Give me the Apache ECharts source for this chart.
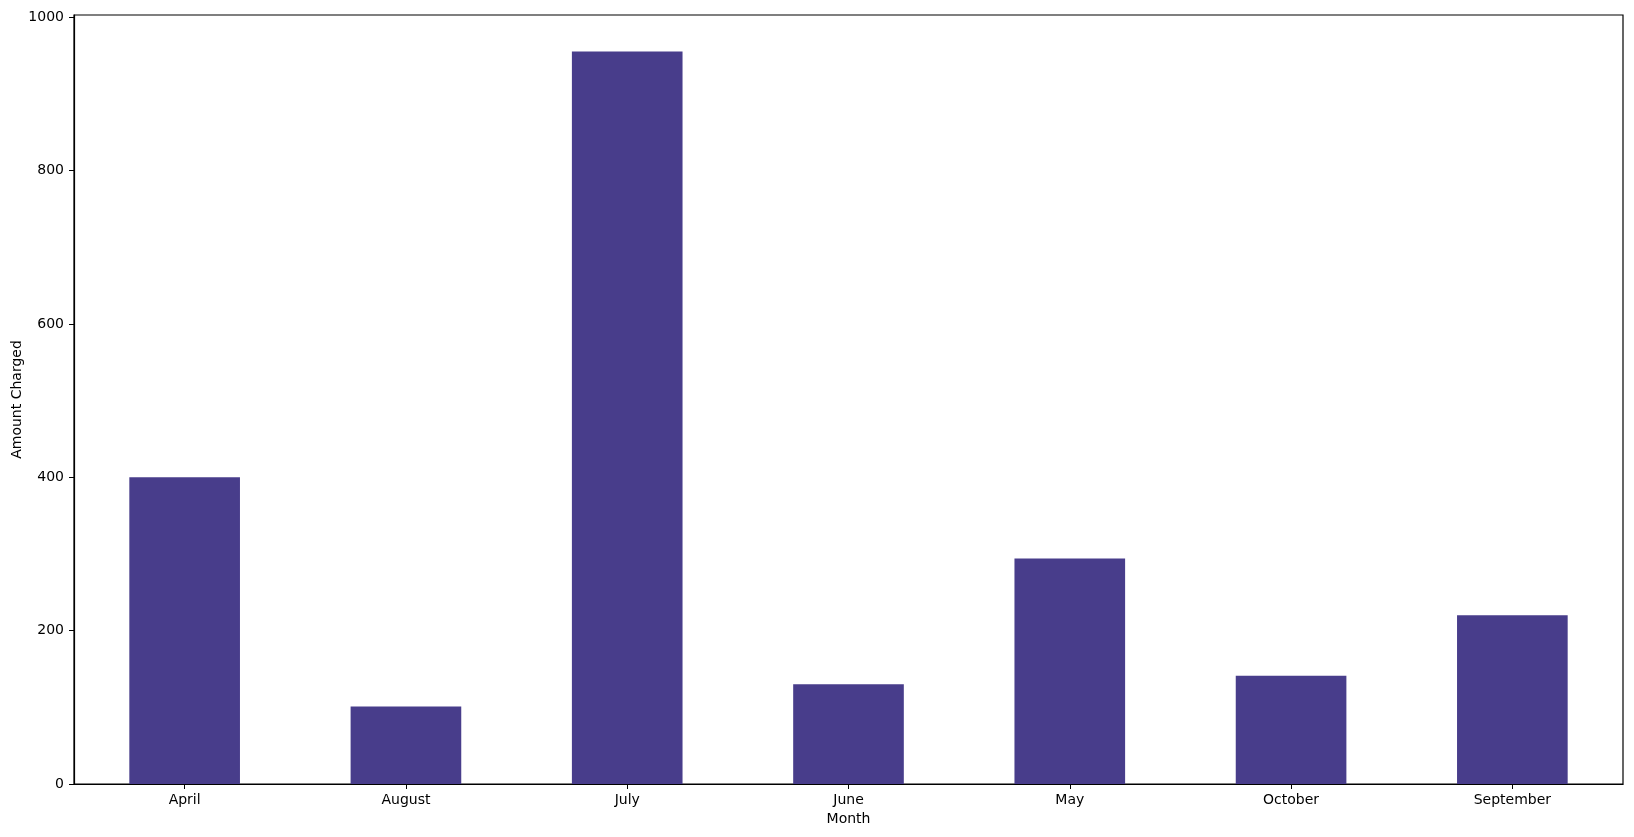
<!DOCTYPE html>
<html>
<head>
<meta charset="utf-8">
<script src="https://cdn.jsdelivr.net/npm/echarts@6/dist/echarts.min.js"></script>
<style>
html,body{margin:0;padding:0;background:#fff;}
#chart{width:1634px;height:837px;}
</style>
</head>
<body>
<div id="chart"></div>
<script>
const categories = ["April", "August", "July", "June", "May", "October", "September"];
const amountCharged = [400, 101, 955, 130, 294, 141, 220];
const yTicks = [0, 200, 400, 600, 800, 1000];

const chart = echarts.init(document.getElementById('chart'), null, {renderer: 'canvas'});
const font = 'DejaVu Sans';
chart.setOption({
  animation: false,
  backgroundColor: '#ffffff',
  grid: {
    left: 74, right: 11, top: 15, bottom: 53,
    containLabel: false,
    outerBoundsMode: 'none',
    show: true, borderColor: '#000', borderWidth: 1.2, backgroundColor: 'transparent'
  },
  xAxis: {
    type: 'category',
    data: categories,
    boundaryGap: true,
    name: 'Month',
    nameLocation: 'middle',
    nameGap: 28,
    nameMoveOverlap: false,
    nameTextStyle: {fontFamily: font, fontSize: 14, color: '#000'},
    axisLine: {show: true, lineStyle: {color: '#000', width: 1.2}},
    axisTick: {show: true, alignWithLabel: true, length: 5, lineStyle: {color: '#000', width: 1}},
    axisLabel: {fontFamily: font, fontSize: 14, color: '#000', margin: 9},
    splitLine: {show: false}
  },
  yAxis: {
    type: 'value',
    min: 0,
    max: 1002.75,
    interval: 200,
    name: 'Amount Charged',
    nameLocation: 'middle',
    nameGap: 50,
    nameMoveOverlap: false,
    nameRotate: 90,
    nameTextStyle: {fontFamily: font, fontSize: 14, color: '#000'},
    axisLine: {show: true, lineStyle: {color: '#000', width: 1.2}},
    axisTick: {show: true, length: 5, customValues: yTicks, lineStyle: {color: '#000', width: 1}},
    axisLabel: {fontFamily: font, fontSize: 14, color: '#000', margin: 10, customValues: yTicks,
      formatter: function (v) { return String(v); }},
    splitLine: {show: false}
  },
  series: [{
    type: 'bar',
    data: amountCharged,
    barWidth: '50%',
    itemStyle: {color: '#483D8B'}
  }]
});
</script>
</body>
</html>
